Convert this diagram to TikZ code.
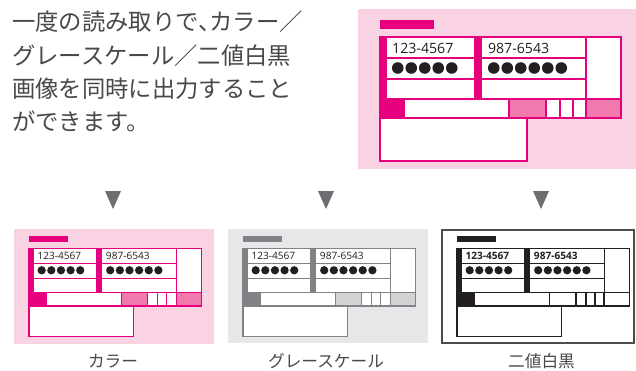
\documentclass[tikz,border=0pt]{standalone}
\usepackage{fontspec}
\newfontfamily\jpfont{Noto Sans CJK JP}
\newfontfamily\numfont{Open Sans}
\definecolor{mag}{HTML}{E6007E}
\definecolor{magmid}{HTML}{F07AAE}
\definecolor{magbg}{HTML}{F9D3E4}
\definecolor{gline}{HTML}{808285}
\definecolor{gmid}{HTML}{D1D3D4}
\definecolor{gbg}{HTML}{E6E7E8}
\definecolor{ink}{HTML}{231F20}
\definecolor{txt}{HTML}{4A4748}
\definecolor{tri}{HTML}{6D6E71}
\newcommand\cardweight{}
\tikzset{
  numtext/.style={anchor=base west, inner sep=0pt, font=\numfont\cardweight\fontsize{10.6}{12}\selectfont, text=ink},
  bodytext/.style={anchor=base west, inner sep=0pt, font=\jpfont\fontsize{17.5}{20}\selectfont, text=txt},
  labtext/.style={anchor=base, inner sep=0pt, font=\jpfont\fontsize{12.5}{14}\selectfont, text=txt},
}
% #1 prefix, #2 x, #3 y, #4 scale, #5 line colour, #6 dark colour, #7 mid colour, #8 line width, #9 separator width
\newcommand\drawcard[9]{%
\begin{scope}[shift={(#2,#3)}, scale=#4, transform shape, line width=#8]
  \fill[#6] (0,0) rectangle (54,9);
  \fill[white] (0,17) rectangle (241,98);
  \fill[white] (0,98) rectangle (147,141);
  \fill[#6] (0,17) rectangle (7,79);
  \fill[#6] (94,17) rectangle (102,79);
  \fill[#6] (0,79) rectangle (24,98);
  \fill[#7] (129,79) rectangle (166,98);
  \fill[#7] (206,79) rectangle (241,98);
  \draw[#5] (0,17) rectangle (241,98);
  \draw[#5] (0,98) rectangle (147,141);
  \draw[#5] (0,79) -- (241,79);
  \draw[#5] (7,38) -- (206,38) (7,59) -- (206,59);
  \draw[#5] (206,17) -- (206,79);
  \draw[#5] (24,79) -- (24,98) (129,79) -- (129,98);
  \draw[#5, line width=#9] (166,79) -- (166,98) (180,79) -- (180,98) (193,79) -- (193,98) (206,79) -- (206,98);
  \node[numtext] (#1numa) at (11.5,33.3) {123-4567};
  \node[numtext] (#1numb) at (107.3,33.3) {987-6543};
  \foreach \i in {0,...,4} \fill[ink] (17.75+13.5*\i,48) circle (5.8);
  \foreach \i in {0,...,5} \fill[ink] (113.75+13.5*\i,48) circle (5.8);
\end{scope}}
\begin{document}
\begin{tikzpicture}[x=0.75pt,y=-0.75pt]
\useasboundingbox (0,0) rectangle (636,371);
% body text
\node[bodytext] (l1) at (12,31) {一度の読み取りで、\kern-0.5em カラー／};
\node[bodytext] (l2) at (12,64) {グレースケール／二値白黒};
\node[bodytext] (l3) at (12,97) {画像を同時に出力すること};
\node[bodytext] (l4) at (12,130) {ができます。};
% big card
\fill[magbg] (358,9) rectangle (636,169);
\drawcard{big}{380}{20}{1}{mag}{mag}{magmid}{1.1pt}{1.1pt}
% triangles
\foreach \cx in {113,326,541} \fill[tri] (\cx-8,191) -- (\cx+8,191) -- (\cx,209) -- cycle;
% small cards
\fill[magbg] (14,229) rectangle (214,344);
\drawcard{c}{29}{236}{0.714}{mag}{mag}{magmid}{0.8pt}{0.8pt}
\fill[gbg] (228,229) rectangle (428,343);
\drawcard{g}{243}{236}{0.714}{gline}{gline}{gmid}{0.8pt}{0.8pt}
\draw[black!70, line width=0.8pt] (442,230) rectangle (634,343);
\renewcommand\cardweight{\bfseries}
\drawcard{b}{457}{236}{0.714}{ink}{ink}{white}{0.8pt}{1.5pt}
% labels
\node[labtext] (lc) at (113,367.5) {カラー};
\node[labtext] (lg) at (326,367.5) {グレースケール};
\node[labtext] (lb) at (541.5,367.5) {二値白黒};
\end{tikzpicture}
\end{document}
